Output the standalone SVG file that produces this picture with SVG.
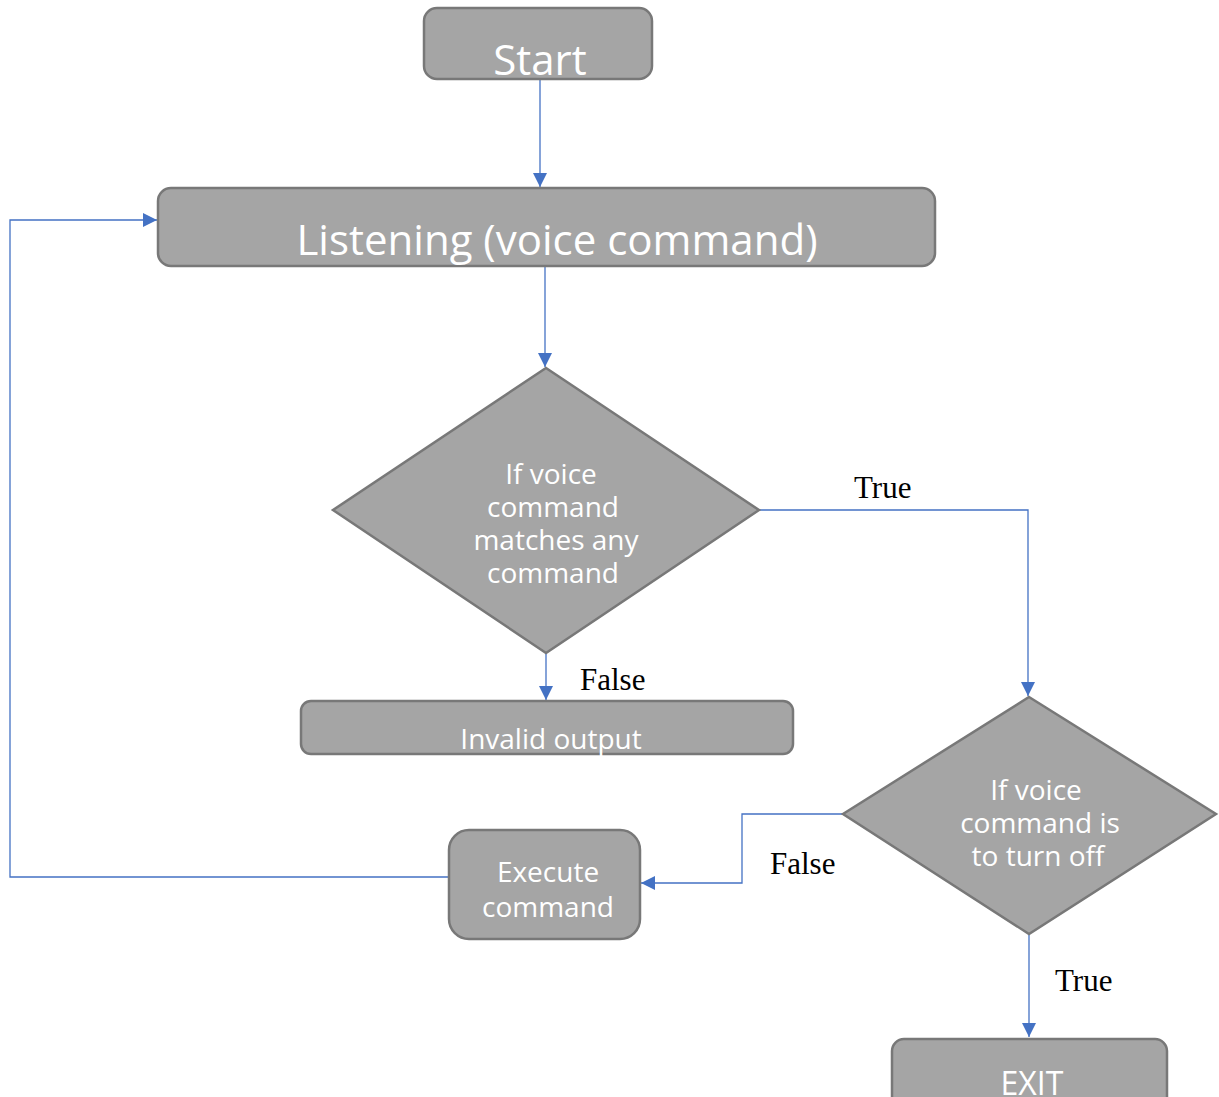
<svg xmlns="http://www.w3.org/2000/svg" width="1219" height="1097" viewBox="0 0 1219 1097">
<style>
.n{fill:#a5a5a5;stroke:#787878;stroke-width:2.5}
.t{fill:#fff;font-family:"Open Sans","Noto Sans",sans-serif;text-anchor:middle}
.c{fill:none;stroke:#4472c4;stroke-width:1.3}
.l{fill:#000;font-family:"Liberation Serif",serif;font-size:31px}
</style>
<defs>
<marker id="a" viewBox="0 0 10 10" refX="10" refY="5" markerWidth="14" markerHeight="14" markerUnits="userSpaceOnUse" orient="auto">
<path d="M0,0 L10,5 L0,10 z" fill="#4472c4"/>
</marker>
</defs>
<rect width="1219" height="1097" fill="#fff"/>
<g id="connectors">
<path class="c" d="M540,79 V187" marker-end="url(#a)"/>
<path class="c" d="M545,266 V367" marker-end="url(#a)"/>
<path class="c" d="M759,510 H1028 V696" marker-end="url(#a)"/>
<path class="c" d="M546,653 V700" marker-end="url(#a)"/>
<path class="c" d="M843,814 H742 V883 H641" marker-end="url(#a)"/>
<path class="c" d="M1029,934 V1037" marker-end="url(#a)"/>
<path class="c" d="M449,877 H10 V220 H157" marker-end="url(#a)"/>
</g>
<g id="start">
<rect class="n" x="424" y="8" width="228" height="71" rx="13"/>
<text class="t" x="540" y="75" font-size="42">Start</text>
</g>
<g id="listening">
<rect class="n" x="158" y="188" width="777" height="78" rx="13"/>
<text class="t" x="557" y="255" font-size="42">Listening (voice command)</text>
</g>
<g id="decision1">
<polygon class="n" points="546,368 759,510 546,653 333,510"/>
<text class="t" font-size="28"><tspan x="551" y="484">If voice</tspan><tspan x="553" y="517">command</tspan><tspan x="556" y="550">matches any</tspan><tspan x="553" y="583">command</tspan></text>
</g>
<g id="invalid">
<rect class="n" x="301" y="701" width="492" height="53" rx="10"/>
<text class="t" x="551" y="749" font-size="28">Invalid output</text>
</g>
<g id="decision2">
<polygon class="n" points="1029,697 1216,814 1029,934 843,814"/>
<text class="t" font-size="28"><tspan x="1036" y="800">If voice</tspan><tspan x="1040" y="833">command is</tspan><tspan x="1038" y="866">to turn off</tspan></text>
</g>
<g id="execute">
<rect class="n" x="449" y="830" width="191" height="109" rx="20"/>
<text class="t" font-size="28"><tspan x="548" y="882">Execute</tspan><tspan x="548" y="917">command</tspan></text>
</g>
<g id="exit">
<rect class="n" x="892" y="1039" width="275" height="70" rx="12"/>
<text class="t" x="1032" y="1095" font-size="32">EXIT</text>
</g>
<g id="labels">
<text class="l" x="854" y="498">True</text>
<text class="l" x="580" y="690">False</text>
<text class="l" x="770" y="874">False</text>
<text class="l" x="1055" y="991">True</text>
</g>
</svg>
